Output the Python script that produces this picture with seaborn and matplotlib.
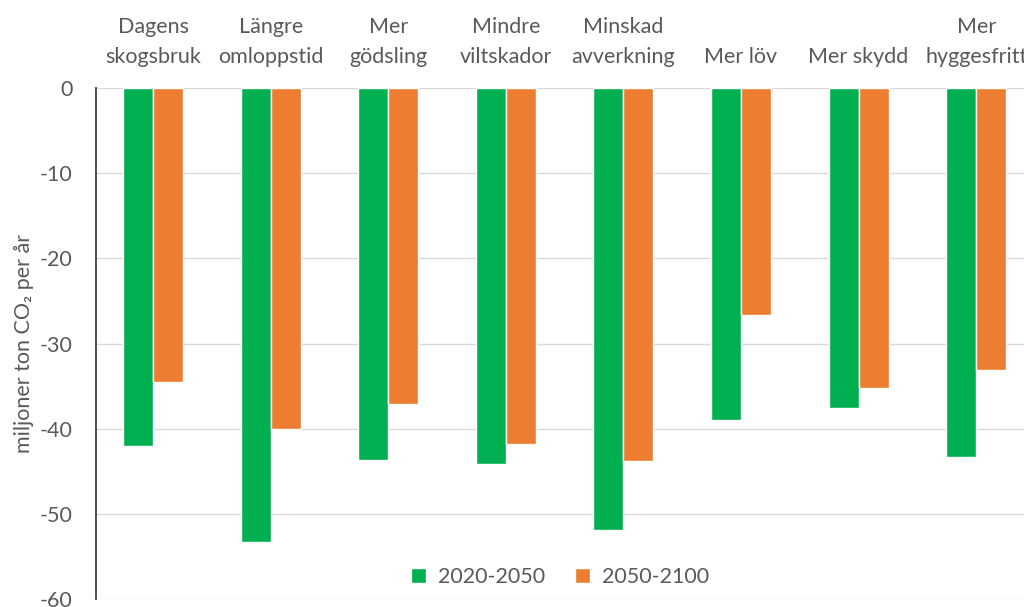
import pandas as pd
import seaborn as sns
import matplotlib.pyplot as plt
from matplotlib.patches import Patch

# categories and values (miljoner ton CO2 per år)
categories = ['Dagens\nskogsbruk', 'Längre\nomloppstid', 'Mer\ngödsling', 'Mindre\nviltskador',
              'Minskad\navverkning', 'Mer löv', 'Mer skydd', 'Mer\nhyggesfritt']
period_1 = [-42.0, -53.3, -43.7, -44.1, -51.9, -39.0, -37.6, -43.3]
period_2 = [-34.5, -40.0, -37.1, -41.8, -43.8, -26.6, -35.2, -33.1]
series_names = ['2020-2050', '2050-2100']
colors = ['#00B050', '#ED7D31']

df = pd.DataFrame({
    'Kategori': categories * 2,
    'Värde': period_1 + period_2,
    'Period': [series_names[0]] * len(categories) + [series_names[1]] * len(categories),
})

sns.set_style('white')
plt.rcParams['font.family'] = ['Lato', 'DejaVu Sans']
plt.rcParams['axes.unicode_minus'] = False

fig = plt.figure(figsize=(10.24, 6.07), dpi=100)
ax = fig.add_axes([96 / 1024, 8 / 607, 939 / 1024, 511 / 607])

sns.barplot(data=df, x='Kategori', y='Värde', hue='Period', palette=colors,
            width=0.51, ax=ax, legend=False, saturation=1)

ax.set_ylim(-60, 0)
ax.set_xlim(-0.485, 7.5)
ax.set_yticks(range(-60, 1, 10))
ax.yaxis.grid(True, color='#D9D9D9', linewidth=1)
ax.set_axisbelow(True)

# category labels on top
ax.xaxis.tick_top()
ax.tick_params(axis='x', length=0, pad=15, labelsize=15.5, labelcolor='#595959')
ax.tick_params(axis='y', length=0, pad=17, labelsize=15.5, labelcolor='#595959')
for lbl in ax.get_xticklabels():
    lbl.set_linespacing(1.65)

ax.set_xlabel('')
ax.set_ylabel('miljoner ton CO₂ per år', fontsize=15.5, color='#595959', labelpad=4)

for side in ['top', 'right', 'bottom']:
    ax.spines[side].set_visible(False)
ax.spines['left'].set_color('#404040')
ax.spines['left'].set_linewidth(1.3)

handles = [Patch(facecolor=c, label=n) for c, n in zip(colors, series_names)]
leg = fig.legend(handles=handles, loc='center', bbox_to_anchor=(0.547, 0.049),
                 ncol=2, frameon=True, fontsize=15.5, handlelength=0.7, handleheight=0.7,
                 columnspacing=1.4, handletextpad=0.55, borderpad=0.3)
leg.get_frame().set_facecolor('white')
leg.get_frame().set_edgecolor('none')
for t in leg.get_texts():
    t.set_color('#595959')

plt.savefig('out.png', dpi=100)
